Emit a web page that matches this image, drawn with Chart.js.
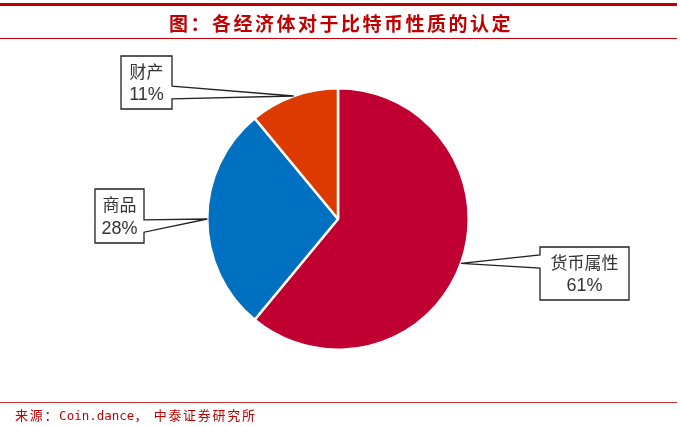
<!DOCTYPE html>
<html>
<head>
<meta charset="utf-8">
<script src="https://cdn.jsdelivr.net/npm/chart.js@4"></script>
<style>
    html, body { margin: 0; padding: 0; background: #fff; }
    #wrap { position: relative; width: 680px; height: 426px; overflow: hidden; }
    #chart { position: absolute; left: 0; top: 0; }
    #topbar { position: absolute; left: 0; top: 3px; width: 677px; height: 3px; background: #c00000; }
    #titleline { position: absolute; left: 0; top: 38px; width: 677px; height: 1px; background: #c00000; }
    #title {
        position: absolute; left: 0; top: 9px; width: 680px; height: 28px;
        text-align: center; line-height: 28px; color: #c00000;
        font-family: "Noto Sans CJK SC", sans-serif; font-weight: bold; font-size: 19px;
        letter-spacing: 2.5px; padding-left: 2px; box-sizing: border-box;
    }
    #sourceline { position: absolute; left: 0; top: 402px; width: 677px; height: 1px; background: #c83030; }
    #source {
        position: absolute; left: 15px; top: 405px; height: 20px; white-space: nowrap;
        color: #c00000; font-size: 13px; line-height: 20px;
    }
    #source .cjk { font-family: "Noto Sans CJK SC", sans-serif; letter-spacing: 1.7px; }
    #source .lat { font-family: "DejaVu Sans Mono", monospace; font-size: 12.5px; }
</style>
</head>
<body>
<div id="wrap">
    <canvas id="chart" width="680" height="426"></canvas>
    <div id="topbar"></div>
    <div id="title">图：各经济体对于比特币性质的认定</div>
    <div id="titleline"></div>
    <div id="sourceline"></div>
    <div id="source"><span class="cjk">来源：</span><span class="lat">Coin.dance</span><span class="cjk">， 中泰证券研究所</span></div>
</div>
<script>
const categories = ["货币属性", "商品", "财产"];
const shares = [61, 28, 11];
const sliceColors = ["#c00030", "#0070c0", "#dc3a00"];

// callout box placement: left, top, width, height, pointer base (fractions of height)
const calloutBoxes = [
    { x: 540, y: 247, w: 89, h: 53, b0: 0.15, b1: 0.40 },
    { x: 95, y: 189, w: 49, h: 54, b0: 0.57, b1: 0.80 },
    { x: 121, y: 56, w: 51, h: 53, b0: 0.57, b1: 0.81 }
];

const calloutPlugin = {
    id: "callouts",
    afterDatasetsDraw(chart) {
        const ctx = chart.ctx;
        const meta = chart.getDatasetMeta(0);
        meta.data.forEach(function (arc, i) {
            const mid = (arc.startAngle + arc.endAngle) / 2;
            const tipX = arc.x + Math.cos(mid) * arc.outerRadius;
            const tipY = arc.y + Math.sin(mid) * arc.outerRadius;
            const b = calloutBoxes[i];
            const y0 = b.y + b.h * b.b0;
            const y1 = b.y + b.h * b.b1;
            ctx.save();
            ctx.beginPath();
            if (tipX > b.x + b.w) {
                ctx.moveTo(b.x, b.y);
                ctx.lineTo(b.x + b.w, b.y);
                ctx.lineTo(b.x + b.w, y0);
                ctx.lineTo(tipX, tipY);
                ctx.lineTo(b.x + b.w, y1);
                ctx.lineTo(b.x + b.w, b.y + b.h);
                ctx.lineTo(b.x, b.y + b.h);
            } else {
                ctx.moveTo(b.x + b.w, b.y);
                ctx.lineTo(b.x, b.y);
                ctx.lineTo(b.x, y0);
                ctx.lineTo(tipX, tipY);
                ctx.lineTo(b.x, y1);
                ctx.lineTo(b.x, b.y + b.h);
                ctx.lineTo(b.x + b.w, b.y + b.h);
            }
            ctx.closePath();
            ctx.fillStyle = "#ffffff";
            ctx.fill();
            ctx.lineWidth = 1.3;
            ctx.strokeStyle = "#222";
            ctx.stroke();
            ctx.fillStyle = "#333";
            ctx.textAlign = "center";
            ctx.textBaseline = "middle";
            ctx.font = "17px 'Noto Sans CJK SC', sans-serif";
            ctx.fillText(categories[i], b.x + b.w / 2, b.y + b.h * 0.29);
            ctx.font = "18px 'Liberation Sans', Arial, sans-serif";
            ctx.fillText(shares[i] + "%", b.x + b.w / 2, b.y + b.h * 0.74);
            ctx.restore();
        });
    }
};

document.addEventListener("DOMContentLoaded", function () {
    const ctx = document.getElementById("chart").getContext("2d");
    new Chart(ctx, {
        type: "pie",
        data: {
            labels: categories,
            datasets: [
                {
                    data: shares,
                    backgroundColor: sliceColors,
                    borderColor: "#ffffff",
                    borderWidth: 2.5,
                },
            ],
        },
        options: {
            responsive: false,
            animation: false,
            layout: { padding: { top: 87, bottom: 75, left: 0, right: 4 } },
            plugins: {
                legend: { display: false },
                tooltip: { enabled: false },
            },
        },
        plugins: [calloutPlugin],
    });
});
</script>
</body>
</html>
